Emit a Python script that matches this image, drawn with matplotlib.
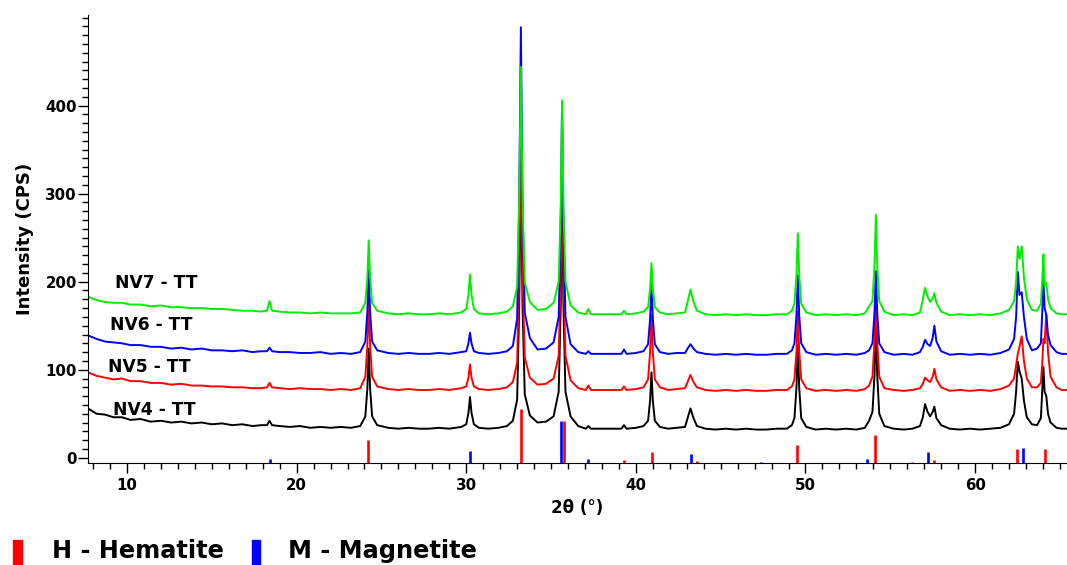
import matplotlib
matplotlib.use('Agg')
import matplotlib.pyplot as plt
from matplotlib.ticker import MultipleLocator
from matplotlib.patches import Rectangle

# 2theta grid (deg)
two_theta = [7.7, 8.2, 8.7, 9.2, 9.7, 10.2, 10.8, 11.4, 12.0, 12.6, 13.2, 13.8, 14.4, 15.0, 15.6, 16.2,
             16.8, 17.4, 17.9, 18.25, 18.4, 18.55, 19.0, 19.6, 20.2, 20.8, 21.4, 22.0, 22.6, 23.2, 23.75,
             24.05, 24.17, 24.25, 24.33, 24.45, 24.75,
             25.4, 26.0, 26.6, 27.2, 27.8, 28.4, 29.0, 29.7,
             30.0, 30.13, 30.22, 30.31, 30.45, 30.75,
             31.3, 31.9, 32.4, 32.75,
             33.0, 33.12, 33.22, 33.32, 33.45, 33.75,
             34.2, 34.7, 35.15,
             35.45, 35.57, 35.65, 35.73, 35.85, 36.15,
             36.6, 37.05, 37.2, 37.35, 37.9, 38.6, 39.15, 39.3, 39.45, 40.0, 40.45,
             40.72, 40.84, 40.92, 41.0, 41.12, 41.42,
             41.9, 42.4, 42.9,
             43.05, 43.22, 43.4, 43.6,
             44.1, 44.7, 45.3, 45.9, 46.5, 47.1, 47.7, 48.3, 48.9, 49.2,
             49.35, 49.47, 49.55, 49.63, 49.75, 50.05,
             50.6, 51.2, 51.8, 52.4, 53.0, 53.5,
             53.75, 53.95, 54.07, 54.15, 54.23, 54.35, 54.65,
             55.2, 55.8, 56.3, 56.75,
             56.92, 57.05, 57.2, 57.35, 57.5, 57.6, 57.72, 58.0,
             58.5, 59.1, 59.7, 60.3, 60.9, 61.5, 62.0,
             62.3, 62.42, 62.52, 62.62, 62.75, 62.88, 63.05, 63.35,
             63.65,
             63.88, 63.97, 64.03, 64.1, 64.2, 64.3, 64.45, 64.8, 65.1, 65.42]

nv4 = [56, 50, 49, 46, 46, 43, 44, 41, 42, 40, 41, 39, 40, 38, 39, 37,
       38, 36, 37, 37, 42, 37, 36, 35, 36, 34, 35, 34, 35, 34, 36,
       47, 79, 124, 79, 47, 37,
       34, 33, 34, 33, 33, 34, 33, 35,
       38, 51, 69, 51, 38, 34,
       33, 34, 36, 42,
       66, 170, 334, 170, 72, 48,
       40, 41, 47,
       75, 172, 306, 172, 75, 47,
       36, 33, 36, 33, 33, 33, 33, 37, 33, 34, 36,
       42, 65, 97, 65, 42, 35,
       33, 34, 35,
       45, 56, 45, 36,
       33, 32, 33, 32, 33, 32, 32, 33, 33, 37,
       45, 80, 128, 80, 45, 35,
       32, 33, 32, 33, 32, 34,
       42, 52, 94, 156, 94, 50, 36,
       33, 32, 33, 36,
       46, 61, 52, 47, 52, 58, 45, 37,
       33, 32, 33, 32, 33, 34, 38,
       50, 75, 109, 98, 90, 65, 46, 38,
       37,
       45, 80, 103, 75, 70, 50, 40, 34, 33, 33]

nv5 = [97, 93, 91, 89, 90, 87, 87, 85, 85, 83, 84, 82, 82, 81, 81, 80,
       80, 79, 79, 80, 85, 80, 79, 78, 79, 78, 78, 77, 78, 77, 79,
       92, 128, 178, 128, 92, 81,
       78, 77, 78, 77, 77, 78, 77, 79,
       81, 91, 106, 91, 81, 78,
       77, 78, 80, 86,
       108, 208, 365, 208, 114, 91,
       83, 84, 90,
       116, 208, 335, 208, 116, 88,
       79, 77, 82, 77, 77, 77, 77, 81, 77, 78, 80,
       89, 120, 162, 120, 89, 80,
       77, 78, 79,
       86, 94, 86, 80,
       77, 76, 77, 76, 77, 76, 76, 77, 77, 81,
       89, 121, 166, 121, 89, 79,
       76, 77, 76, 77, 76, 78,
       82, 92, 132, 188, 132, 92, 79,
       77, 76, 77, 79,
       84, 91, 88, 86, 92, 101, 89, 80,
       76, 77, 76, 77, 76, 78, 82,
       90, 105, 118, 126, 138, 110, 90, 80,
       80,
       85, 110, 135, 130, 163, 120, 92, 80, 77, 77]

nv6 = [139, 135, 132, 131, 130, 128, 128, 126, 126, 124, 125, 123, 124, 122, 122, 121,
       122, 120, 121, 121, 125, 121, 120, 120, 119, 119, 120, 118, 119, 118, 120,
       132, 166, 214, 166, 132, 122,
       119, 118, 119, 118, 118, 119, 118, 120,
       121, 130, 142, 130, 121, 119,
       118, 119, 121, 127,
       158, 287, 489, 287, 165, 136,
       123, 124, 131,
       160, 262, 403, 262, 160, 129,
       120, 118, 121, 118, 118, 118, 118, 123, 118, 119, 121,
       129, 158, 198, 158, 129, 120,
       118, 119, 119,
       124, 129, 124, 120,
       118, 117, 118, 117, 118, 117, 117, 118, 118, 122,
       130, 162, 207, 162, 130, 120,
       117, 118, 117, 118, 117, 119,
       122, 130, 165, 212, 165, 130, 120,
       117, 118, 117, 120,
       126, 134, 129, 127, 136, 150, 132, 121,
       117, 118, 117, 118, 117, 119, 123,
       135, 160, 211, 185, 188, 160, 135, 122,
       124,
       130, 170, 203, 170, 162, 140, 128, 120, 118, 118]

nv7 = [183, 179, 177, 176, 176, 174, 174, 172, 173, 171, 171, 170, 170, 169, 169, 168,
       167, 167, 166, 167, 178, 167, 166, 165, 165, 164, 165, 164, 164, 164, 165,
       176, 205, 247, 205, 176, 167,
       164, 163, 164, 163, 163, 164, 163, 165,
       169, 185, 208, 185, 169, 164,
       163, 164, 166, 172,
       194, 291, 444, 291, 199, 177,
       168, 169, 176,
       200, 286, 406, 286, 200, 173,
       165, 163, 169, 163, 163, 163, 163, 167, 163, 164, 166,
       171, 192, 221, 192, 171, 165,
       163, 164, 165,
       177, 191, 177, 167,
       163, 162, 163, 162, 163, 162, 162, 163, 163, 167,
       175, 208, 255, 208, 175, 165,
       162, 163, 162, 163, 162, 164,
       172, 178, 219, 276, 219, 178, 166,
       162, 163, 162, 165,
       180, 193, 183, 177, 181, 187, 176, 166,
       162, 163, 162, 163, 162, 164, 168,
       178, 200, 240, 226, 240, 205, 180, 168,
       167,
       175, 205, 231, 195, 199, 180, 170, 164, 163, 163]

sample_names = ['NV4 - TT', 'NV5 - TT', 'NV6 - TT', 'NV7 - TT']

# reference patterns (stick tops in CPS units of the plot)
hematite_pos = [24.2, 33.2, 35.77, 39.3, 40.95, 43.6, 49.52, 54.1, 56.3, 57.6, 62.5, 64.12]
hematite_top = [20, 55, 42, -3, 7, -3.5, 15, 26, -5, -2.5, 10, 10]
magnetite_pos = [18.4, 30.2, 35.58, 37.2, 43.25, 47.4, 53.65, 57.2, 62.85]
magnetite_top = [-2, 8, 42, -2, 4, -5, -2, 7, 11]

ymin, ymax = -6, 503

fig = plt.figure(figsize=(10.67, 5.65), dpi=100)
ax = fig.add_axes([0.0825, 0.1805, 0.9175, 0.793])

ax.vlines(hematite_pos, ymin, hematite_top, color='#ff0000', lw=1.9, zorder=1)
ax.vlines(magnetite_pos, ymin, magnetite_top, color='#0000ff', lw=1.9, zorder=1)

colors = ['black', '#ff0000', '#0000ff', '#00ee00']
for ys, c in zip([nv4, nv5, nv6, nv7], colors):
    ax.plot(two_theta, ys, color=c, lw=1.4, zorder=2)

label_pos = [(9.17, 54), (8.88, 103), (9.0, 151), (9.29, 199)]
for name, (lx, ly) in zip(sample_names, label_pos):
    ax.text(lx, ly, name, fontsize=12.3, fontweight='bold', ha='left', va='center', zorder=3)

ax.set_xlim(7.7, 65.42)
ax.set_ylim(ymin, ymax)
ax.set_xticks([10, 20, 30, 40, 50, 60])
ax.set_yticks([0, 100, 200, 300, 400])
ax.xaxis.set_minor_locator(MultipleLocator(1))
ax.yaxis.set_minor_locator(MultipleLocator(10))
ax.tick_params(which='major', length=7, width=1, labelsize=10.8, pad=4)
ax.tick_params(axis='y', which='major', pad=1)
ax.tick_params(which='minor', length=4, width=1)
for t in ax.get_xticklabels() + ax.get_yticklabels():
    t.set_fontweight('bold')
ax.spines['top'].set_visible(False)
ax.spines['right'].set_visible(False)

ax.set_xlabel('2θ (°)', fontsize=12, fontweight='bold', labelpad=4)
ax.set_ylabel('Intensity (CPS)', fontsize=13, fontweight='bold', labelpad=8)

# legend for the reference sticks
fig.patches.append(Rectangle((0.0122, 0.0), 0.0084, 0.0442, transform=fig.transFigure,
                             color='#ff0000', figure=fig))
fig.patches.append(Rectangle((0.2362, 0.0), 0.0075, 0.0442, transform=fig.transFigure,
                             color='#0000ff', figure=fig))
fig.text(0.0487, 0.0124, 'H - Hematite', fontsize=17.3, fontweight='bold', va='baseline')
fig.text(0.2699, 0.0124, 'M - Magnetite', fontsize=17.3, fontweight='bold', va='baseline')

fig.savefig('out.png', dpi=100)
